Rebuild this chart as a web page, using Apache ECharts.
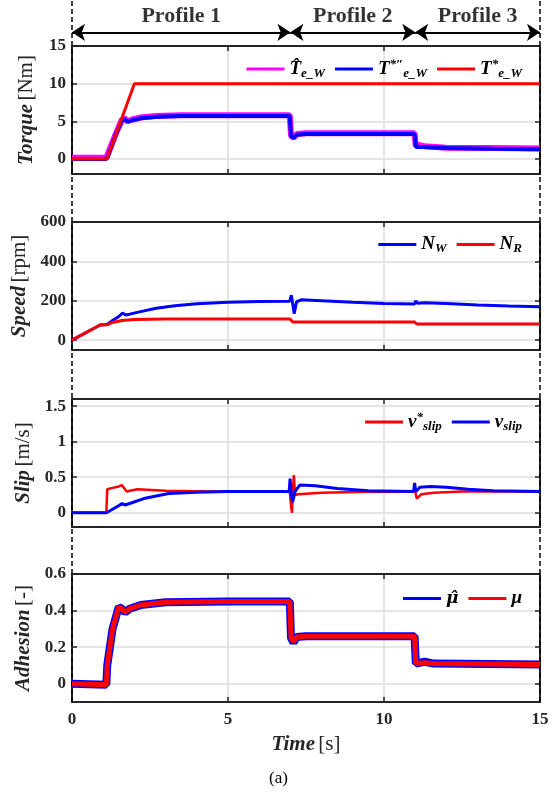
<!DOCTYPE html>
<html>
<head>
<meta charset="utf-8">
<script src="https://cdn.jsdelivr.net/npm/echarts@6/dist/echarts.min.js"></script>
<style>html,body{margin:0;padding:0;background:#fff}#c{width:557px;height:795px}</style>
</head>
<body>
<div id="c"></div>
<script>
// ---------------- data ----------------
const timeTicks = [0, 5, 10, 15];
const profileBounds = [0, 7, 11, 15];
const profileNames = ['Profile 1', 'Profile 2', 'Profile 3'];

const torqueTicks = [0, 5, 10, 15];
const speedTicks = [0, 200, 400, 600];
const slipTicks = [0, 0.5, 1, 1.5];
const adhesionTicks = [0, 0.2, 0.4, 0.6];

// Torque [Nm]
const torqueEst = [[0,0.15],[1.1,0.15],[1.15,0.4],[1.4,3.3],[1.6,5.2],[1.68,5.4],[1.78,5.0],[1.9,5.2],[2.2,5.5],[2.7,5.7],[3.5,5.8],[5,5.8],[6.98,5.8],[7.02,3.1],[7.1,2.8],[7.2,3.3],[7.5,3.4],[9,3.4],[10.98,3.4],[11.02,1.7],[11.1,1.85],[11.3,1.7],[12,1.5],[13.5,1.45],[15,1.4]];
const torqueCmd = [[0,0],[1.1,0],[1.15,0.3],[1.4,3.2],[1.6,5.1],[1.68,5.3],[1.78,4.95],[1.9,5.1],[2.2,5.4],[2.7,5.6],[3.5,5.7],[5,5.7],[6.98,5.7],[7.02,3.0],[7.1,2.8],[7.2,3.2],[7.5,3.3],[9,3.3],[10.98,3.3],[11.02,1.6],[11.3,1.6],[12,1.45],[13.5,1.35],[15,1.3]];
const torqueRef = [[0,0],[1.12,0],[2.0,10],[15,10]];

// Speed [rpm]
const speedWheel = [[0,0],[0.9,77],[1.12,80],[1.3,100],[1.5,120],[1.62,138],[1.72,128],[1.85,132],[2.2,145],[2.7,162],[3.3,175],[4,185],[5,193],[6,196],[6.98,198],[7.03,228],[7.07,190],[7.12,135],[7.2,195],[7.35,205],[8,200],[9,192],[10,186],[10.98,184],[11.02,200],[11.06,188],[11.3,190],[12,186],[13,179],[14,173],[15,170]];
const speedRoller = [[0,0],[0.9,77],[1.12,78],[1.3,90],[1.6,100],[2,105],[3,108],[6.98,108],[7.08,92],[10.98,92],[11.05,82],[15,82]];

// Slip [m/s]
const slipRef = [[0,0],[1.1,0],[1.13,0.33],[1.3,0.35],[1.5,0.37],[1.6,0.39],[1.75,0.30],[1.85,0.31],[2.1,0.33],[3,0.31],[4.5,0.30],[6.98,0.30],[7.02,0.1],[7.05,0.0],[7.08,0.3],[7.11,0.53],[7.15,0.25],[7.25,0.26],[8,0.28],[9.5,0.295],[11.0,0.3],[11.05,0.2],[11.2,0.26],[11.6,0.28],[12.5,0.3],[15,0.3]];
const slipAct = [[0,0],[1.1,0],[1.3,0.05],[1.5,0.1],[1.6,0.13],[1.7,0.11],[1.85,0.13],[2.3,0.2],[3.1,0.27],[4,0.29],[5,0.3],[6.96,0.3],[6.99,0.48],[7.03,0.25],[7.07,0.15],[7.15,0.3],[7.3,0.39],[7.8,0.38],[8.5,0.34],[9.5,0.31],[10.95,0.3],[10.98,0.42],[11.02,0.3],[11.15,0.36],[11.5,0.37],[12,0.36],[12.7,0.33],[13.5,0.31],[15,0.3]];

// Adhesion [-]
const adhesionEst = [[0,0],[1.1,-0.005],[1.13,0.1],[1.3,0.3],[1.5,0.42],[1.6,0.41],[1.7,0.39],[1.85,0.41],[2.2,0.43],[3,0.445],[5,0.45],[6.98,0.45],[7.02,0.25],[7.1,0.225],[7.2,0.255],[7.5,0.26],[10.98,0.26],[11.02,0.11],[11.3,0.12],[11.6,0.11],[15,0.105]];
const adhesionAct = [[0,0],[1.1,-0.005],[1.13,0.1],[1.3,0.3],[1.5,0.42],[1.6,0.41],[1.7,0.39],[1.85,0.41],[2.2,0.43],[3,0.445],[5,0.45],[6.98,0.45],[7.02,0.25],[7.1,0.23],[7.2,0.255],[7.5,0.26],[10.98,0.26],[11.02,0.11],[11.3,0.115],[11.6,0.11],[15,0.105]];

// ---------------- chart ----------------
const FONT = 'Liberation Serif';
const AX = '#262626';
const RED = '#ff0000', BLUE = '#0000ff', MAG = '#ff00ff';

const panels = [
  {top: 46, min: -2, max: 15, ticks: torqueTicks, nameB: 'Torque', nameR: '[Nm]'},
  {top: 222, min: -50, max: 600, ticks: speedTicks, nameB: 'Speed', nameR: '[rpm]'},
  {top: 399, min: -0.2, max: 1.6, ticks: slipTicks, nameB: 'Slip', nameR: '[m/s]'},
  {top: 574, min: -0.1, max: 0.6, ticks: adhesionTicks, nameB: 'Adhesion', nameR: '[-]'}
];
const H = 128;

const grids = [], xAxes = [], yAxes = [];
const nameRich = {
  b: {fontFamily: FONT, fontStyle: 'italic', fontWeight: 'bold', fontSize: 21, color: AX},
  r: {fontFamily: FONT, fontSize: 21, color: AX}
};
const axisLineStyle = {show: true, onZero: false, lineStyle: {color: AX, width: 2}};
const tickStyle = (vals) => ({show: true, inside: true, length: 5, lineStyle: {color: AX, width: 1.5}, customValues: vals});
const gridLine = {show: true, lineStyle: {color: '#dcdcdc', width: 1.5}};

panels.forEach((p, i) => {
  grids.push({left: 72, right: 17, top: p.top, height: H});
  xAxes.push({
    gridIndex: i, type: 'value', min: 0, max: 15, position: 'bottom',
    axisLine: axisLineStyle, axisTick: tickStyle(timeTicks),
    axisLabel: {show: i === 3, customValues: timeTicks, margin: 9, fontFamily: FONT, fontWeight: 'bold', fontSize: 17, color: AX},
    splitLine: gridLine,
    name: i === 3 ? '{b|Time} {r|[s]}' : '', nameLocation: 'middle', nameGap: 32,
    nameTextStyle: {rich: nameRich}
  });
  xAxes.push({
    gridIndex: i, type: 'value', min: 0, max: 15, position: 'top',
    axisLine: axisLineStyle, axisTick: tickStyle(timeTicks),
    axisLabel: {show: false}, splitLine: {show: false}
  });
  yAxes.push({
    gridIndex: i, type: 'value', min: p.min, max: p.max, position: 'left',
    axisLine: axisLineStyle, axisTick: tickStyle(p.ticks),
    axisLabel: {customValues: p.ticks, margin: 6, fontFamily: FONT, fontWeight: 'bold', fontSize: 17, color: AX},
    splitLine: gridLine,
    name: '{b|' + p.nameB + '} {r|' + p.nameR + '}', nameLocation: 'middle', nameGap: 35,
    nameTextStyle: {rich: nameRich}
  });
  yAxes.push({
    gridIndex: i, type: 'value', min: p.min, max: p.max, position: 'right',
    axisLine: axisLineStyle, axisTick: tickStyle(p.ticks),
    axisLabel: {show: false}, splitLine: {show: false}
  });
});

// overlay grid for profile arrows and dashed guides
grids.push({left: 72, right: 17, top: 0, bottom: 93});
xAxes.push({gridIndex: 4, type: 'value', min: 0, max: 15, show: false});
yAxes.push({gridIndex: 4, type: 'value', min: 0, max: 1, show: false});

const legendRich = {
  m: {fontFamily: FONT, fontStyle: 'italic', fontWeight: 'bold', fontSize: 19, color: '#000', lineHeight: 22},
  mh: {fontFamily: 'DejaVu Serif', fontStyle: 'italic', fontWeight: 'bold', fontSize: 17, color: '#000', lineHeight: 22},
  sub: {fontFamily: FONT, fontStyle: 'italic', fontWeight: 'bold', fontSize: 13, color: '#000', verticalAlign: 'bottom', lineHeight: 12},
  sup: {fontFamily: FONT, fontStyle: 'italic', fontWeight: 'bold', fontSize: 13, color: '#000', verticalAlign: 'top', lineHeight: 12}
};
const legendLabels = {
  'That': '{m|T\u0302}{sub|e_W}',
  'Tcmd': '{m|T}{sup|*\u2033}{sub|e_W}',
  'Tref': '{m|T}{sup|*}{sub|e_W}',
  'NW': '{m|N}{sub|W}',
  'NR': '{m|N}{sub|R}',
  'vref': '{m|v}{sup|*}{sub|slip}',
  'vact': '{m|v}{sub|slip}',
  'muhat': '{mh|\u03bc\u0302}',
  'mu': '{m|\u03bc}'
};
function legend(names, right, top) {
  return {
    data: names, right: right, top: top, icon: 'rect', itemWidth: 38, itemHeight: 3, itemGap: 10,
    formatter: n => legendLabels[n], textStyle: {rich: legendRich},
    selectedMode: false
  };
}

function lineSeries(name, data, color, width, gi) {
  return {
    name: name, type: 'line', data: data, xAxisIndex: gi * 2, yAxisIndex: gi * 2,
    showSymbol: false, symbol: 'none', color: color, lineStyle: {color: color, width: width},
    animation: false, silent: true
  };
}

const arrowY = 0.954, textY = 0.977;
const arrowData = [];
for (let k = 0; k < profileNames.length; k++) {
  arrowData.push({coords: [[profileBounds[k], arrowY], [profileBounds[k + 1], arrowY]]});
}
const labelData = profileNames.map((n, k) => ({name: n, value: [(profileBounds[k] + profileBounds[k + 1]) / 2, textY]}));

const option = {
  backgroundColor: '#fff',
  animation: false,
  title: {text: '(a)', left: 'center', top: 765, textStyle: {fontFamily: FONT, fontWeight: 'normal', fontSize: 17, color: '#000'}},
  grid: grids, xAxis: xAxes, yAxis: yAxes,
  legend: [
    legend(['That', 'Tcmd', 'Tref'], 30, 53),
    legend(['NW', 'NR'], 30, 230),
    legend(['vref', 'vact'], 30, 406),
    legend(['muhat', 'mu'], 30, 584)
  ],
  series: [
    lineSeries('That', torqueEst, MAG, 6, 0),
    lineSeries('Tcmd', torqueCmd, BLUE, 4, 0),
    lineSeries('Tref', torqueRef, RED, 3, 0),
    lineSeries('NW', speedWheel, BLUE, 3, 1),
    lineSeries('NR', speedRoller, RED, 3, 1),
    lineSeries('vref', slipRef, RED, 2.5, 2),
    lineSeries('vact', slipAct, BLUE, 3, 2),
    lineSeries('muhat', adhesionEst, BLUE, 8, 3),
    lineSeries('mu', adhesionAct, RED, 5, 3),
    {
      type: 'lines', coordinateSystem: 'cartesian2d', xAxisIndex: 8, yAxisIndex: 8, z: 1, silent: true,
      data: profileBounds.filter((b, k) => k === 0 || k === profileBounds.length - 1).map(b => ({coords: [[b, 0], [b, 1]]})),
      lineStyle: {color: '#000', width: 1.5, type: [5, 3], opacity: 1}, symbol: 'none'
    },
    {
      type: 'lines', coordinateSystem: 'cartesian2d', xAxisIndex: 8, yAxisIndex: 8, z: 3, silent: true,
      data: arrowData, symbol: ['arrow', 'arrow'], symbolSize: 13,
      lineStyle: {color: '#000', width: 2, opacity: 1}
    },
    {
      type: 'scatter', xAxisIndex: 8, yAxisIndex: 8, symbolSize: 0, silent: true, data: labelData,
      label: {show: true, position: 'inside', formatter: '{b}', fontFamily: FONT, fontWeight: 'bold', fontSize: 22, color: '#000'}
    }
  ]
};
const chart = echarts.init(document.getElementById('c'), null, {renderer: 'canvas'});
chart.setOption(option);
</script>
</body>
</html>
